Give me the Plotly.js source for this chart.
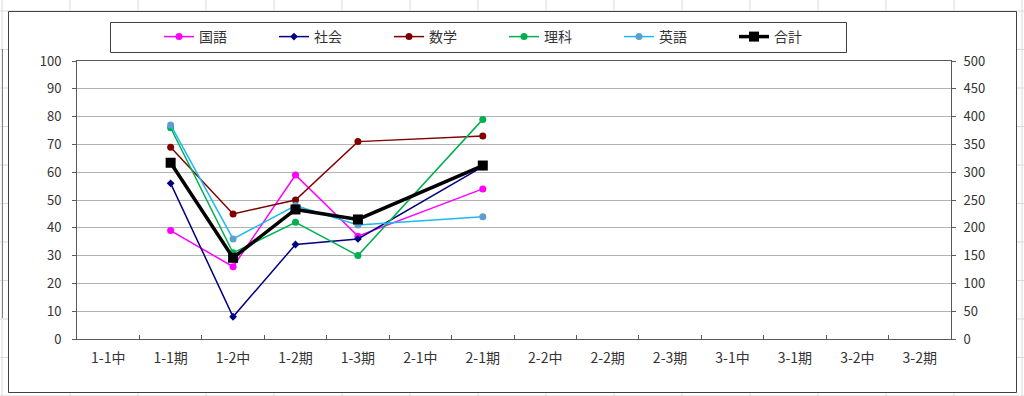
<!DOCTYPE html>
<html>
<head>
<meta charset="utf-8">
<script src="https://cdn.plot.ly/plotly-3.0.1.min.js"></script>
<style>
html,body{margin:0;padding:0;background:#fff;}
#chart{width:1024px;height:396px;}
</style>
</head>
<body>
<div id="chart"></div>
<script>
const categories = ['1-1中','1-1期','1-2中','1-2期','1-3期','2-1中','2-1期','2-2中','2-2期','2-3期','3-1中','3-1期','3-2中','3-2期'];
const kokugo = [null, 39, 26, 59, 37, null, 54, null, null, null, null, null, null, null];
const shakai = [null, 56, 8, 34, 36, null, 62, null, null, null, null, null, null, null];
const sugaku = [null, 69, 45, 50, 71, null, 73, null, null, null, null, null, null, null];
const rika   = [null, 76, 31, 42, 30, null, 79, null, null, null, null, null, null, null];
const eigo   = [null, 77, 36, 48, 41, null, 44, null, null, null, null, null, null, null];
const goukei = [null, 317, 146, 233, 215, null, 312, null, null, null, null, null, null, null];
const seriesNames = ['国語','社会','数学','理科','英語','合計'];

// plot area in pixels
const L = 77, R = 951, T = 61, B = 339;
const W = 1024, H = 396;
const px = x => (x - L) / (R - L);
const py = y => (B - y) / (B - T);

const shapes = [];
const sheetLine = '#d9d9d9';
for (let k = 0; k <= 15; k++) {
  const x = 2 + 68 * k;
  shapes.push({type:'line', xref:'paper', yref:'paper', x0:px(x), x1:px(x), y0:py(0), y1:py(H), line:{color:sheetLine, width:1}, layer:'below'});
}
for (let k = 0; k <= 10; k++) {
  const y = 11 + 38.5 * k;
  shapes.push({type:'line', xref:'paper', yref:'paper', x0:px(0), x1:px(W), y0:py(y), y1:py(y), line:{color:sheetLine, width:1}, layer:'below'});
}
// fragment of neighbouring object at left edge
shapes.push({type:'line', xref:'paper', yref:'paper', x0:px(2.5), x1:px(2.5), y0:py(49), y1:py(318), line:{color:'#808080', width:1}, layer:'below'});
// chart area
shapes.push({type:'rect', xref:'paper', yref:'paper', x0:px(8.5), x1:px(1016.5), y0:py(11.5), y1:py(392.5), fillcolor:'#ffffff', line:{color:'#404040', width:1}, layer:'below'});
// legend box
shapes.push({type:'rect', xref:'paper', yref:'paper', x0:px(110.5), x1:px(846.5), y0:py(22.5), y1:py(52.5), fillcolor:'rgba(0,0,0,0)', line:{color:'#404040', width:1}, layer:'above'});

const mk = (name, y, color, mcolor, symbol, size, width, axis) => ({
  type:'scatter', mode:'lines+markers', name:name, x:categories, y:y, yaxis:axis,
  connectgaps:true,
  line:{color:color, width:width},
  marker:{color:mcolor, symbol:symbol, size:size, line:{width:0}},
  cliponaxis:false
});

const data = [
  mk(seriesNames[0], kokugo, '#FF00FF', '#FF00FF', 'circle', 7, 1.5, 'y'),
  mk(seriesNames[1], shakai, '#000080', '#000080', 'diamond', 6, 1.5, 'y'),
  mk(seriesNames[2], sugaku, '#800000', '#800000', 'circle', 7, 1.5, 'y'),
  mk(seriesNames[3], rika,   '#00B050', '#00B050', 'circle', 7, 1.5, 'y'),
  mk(seriesNames[4], eigo,   '#1EB8F0', '#5E9ECF', 'circle', 7, 1.5, 'y'),
  mk(seriesNames[5], goukei, '#000000', '#000000', 'square', 10, 3.5, 'y2')
];

const fontFam = '"Noto Sans CJK JP", "Noto Sans", sans-serif';
const layout = {
  width: W, height: H,
  margin: {l: L, r: W - R, t: T, b: H - B, pad: 0},
  paper_bgcolor: '#ffffff',
  plot_bgcolor: 'rgba(0,0,0,0)',
  font: {family: fontFam, size: 13, color: '#333333'},
  showlegend: true,
  legend: {
    orientation: 'h', x: px(159), xanchor: 'left', y: py(37), yanchor: 'middle',
    entrywidth: 70, entrywidthmode: 'pixels',
    font: {family: fontFam, size: 14, color: '#333333'},
    bgcolor: 'rgba(0,0,0,0)', borderwidth: 0, traceorder: 'normal'
  },
  xaxis: {
    type: 'category', range: [-0.5, 13.5], fixedrange: true,
    tickson: 'boundaries', ticks: 'inside', ticklen: 4, tickcolor: '#595959',
    showline: true, linecolor: '#595959', linewidth: 1, mirror: true,
    showgrid: false, zeroline: false,
    tickfont: {family: fontFam, size: 14, color: '#333333'},
    ticklabelstandoff: 6
  },
  yaxis: {
    range: [0, 100], dtick: 10, tick0: 0, fixedrange: true,
    ticks: 'outside', ticklen: 4, tickcolor: '#595959',
    showline: true, linecolor: '#595959', linewidth: 1, mirror: true,
    showgrid: true, gridcolor: '#b3b3b3', gridwidth: 1, zeroline: false,
    tickfont: {family: fontFam, size: 13, color: '#333333'},
    ticklabelstandoff: 8
  },
  yaxis2: {
    overlaying: 'y', side: 'right', range: [0, 500], dtick: 50, tick0: 0, fixedrange: true,
    ticks: 'outside', ticklen: 4, tickcolor: '#595959',
    showline: true, linecolor: '#595959', linewidth: 1,
    showgrid: false, zeroline: false,
    tickfont: {family: fontFam, size: 13, color: '#333333'},
    ticklabelstandoff: 5
  },
  shapes: shapes
};

Plotly.newPlot('chart', data, layout, {staticPlot: true, displayModeBar: false});
</script>
</body>
</html>
